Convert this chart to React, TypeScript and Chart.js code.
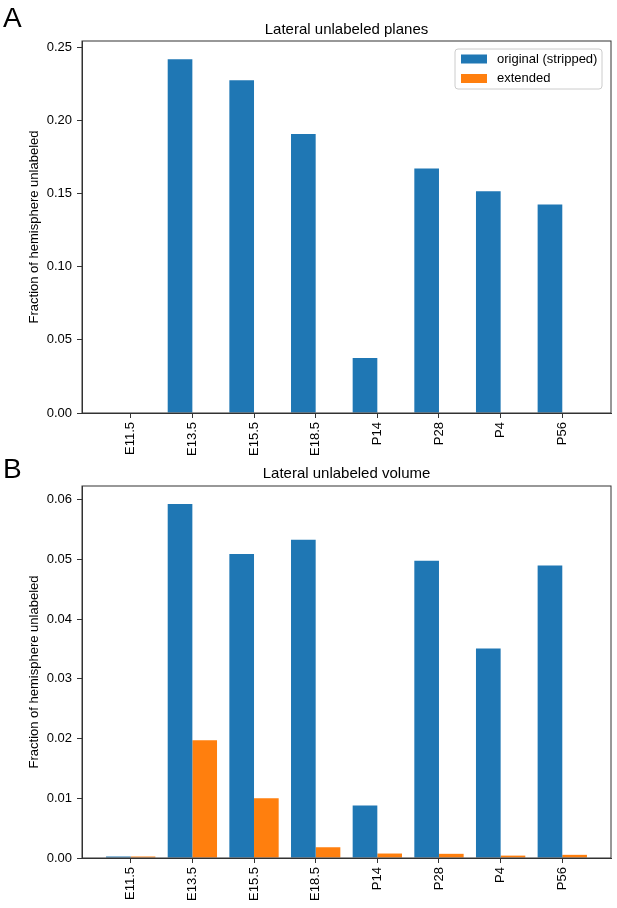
import { useEffect, useRef } from 'react';
import { Chart, registerables } from 'chart.js';

Chart.register(...registerables);

const stages = ['E11.5', 'E13.5', 'E15.5', 'E18.5', 'P14', 'P28', 'P4', 'P56'];

const planesOriginal = [0, 0.242, 0.2276, 0.1909, 0.0376, 0.1673, 0.1517, 0.1426];
const planesExtended = [0, 0, 0, 0, 0, 0, 0, 0];
const planesTicks = [0, 0.05, 0.1, 0.15, 0.2, 0.25];

const volumeOriginal = [0.00025, 0.0593, 0.0509, 0.0533, 0.0088, 0.0498, 0.0351, 0.049];
const volumeExtended = [0.00025, 0.0197, 0.01, 0.0018, 0.00075, 0.0007, 0.0004, 0.00053];
const volumeTicks = [0, 0.01, 0.02, 0.03, 0.04, 0.05, 0.06];

const seriesNames = ['original (stripped)', 'extended'];
const seriesColors = ['#1f77b4', '#ff7f0e'];

const FONT = '"Liberation Sans", Arial, Helvetica, sans-serif';
const SPINE = '#333333';
const Y_LABEL = 'Fraction of hemisphere unlabeled';

Chart.defaults.font.family = FONT;
Chart.defaults.font.size = 13;
Chart.defaults.color = '#000';

// panel letter, title, full frame, y label and the legend box
const panelDecor = {
  id: 'panelDecor',
  afterDraw(chart: any, _args: any, opts: any) {
    const { ctx, chartArea: a } = chart;
    ctx.save();
    ctx.strokeStyle = SPINE;
    ctx.lineWidth = 1;
    ctx.strokeRect(a.left, a.top, a.right - a.left, a.bottom - a.top);

    ctx.fillStyle = '#000';
    ctx.textAlign = 'left';
    ctx.textBaseline = 'alphabetic';
    ctx.font = `28px ${FONT}`;
    ctx.fillText(opts.letter, 3, opts.letterBaseline);

    ctx.font = `15px ${FONT}`;
    ctx.textAlign = 'center';
    ctx.fillText(opts.title, (a.left + a.right) / 2, opts.titleBaseline);

    ctx.save();
    ctx.translate(34, (a.top + a.bottom) / 2);
    ctx.rotate(-Math.PI / 2);
    ctx.font = `13px ${FONT}`;
    ctx.textBaseline = 'middle';
    ctx.fillText(Y_LABEL, 0, 0);
    ctx.restore();

    if (opts.legend) {
      const x = a.right - 156;
      const y = a.top + 8;
      const w = 147;
      const h = 40;
      ctx.fillStyle = 'rgba(255,255,255,0.8)';
      ctx.strokeStyle = '#cccccc';
      ctx.lineWidth = 1;
      ctx.beginPath();
      ctx.roundRect(x, y, w, h, 3);
      ctx.fill();
      ctx.stroke();
      ctx.font = `13px ${FONT}`;
      ctx.textAlign = 'left';
      ctx.textBaseline = 'middle';
      seriesNames.forEach((name, i) => {
        const cy = y + 10 + i * 19.5;
        ctx.fillStyle = seriesColors[i];
        ctx.fillRect(x + 6, cy - 4.5, 26, 9);
        ctx.fillStyle = '#000';
        ctx.fillText(name, x + 42, cy);
      });
    }
    ctx.restore();
  },
};

interface PanelProps {
  letter: string;
  title: string;
  original: number[];
  extended: number[];
  ticks: number[];
  yMax: number;
  height: number;
  top: number;
  xHeight: number;
  titleBaseline: number;
  letterBaseline: number;
  legend: boolean;
}

function Panel(p: PanelProps) {
  const canvasRef = useRef<HTMLCanvasElement>(null);

  useEffect(() => {
    if (!canvasRef.current) return;
    const chart = new Chart(canvasRef.current, {
      type: 'bar',
      data: {
        datasets: [p.original, p.extended].map((vals, k) => ({
          label: seriesNames[k],
          data: vals.map((v, i) => ({ x: i, y: v })),
          backgroundColor: seriesColors[k],
          borderWidth: 0,
          categoryPercentage: 0.8,
          barPercentage: 1,
        })),
      },
      options: {
        responsive: false,
        animation: false,
        layout: { padding: { top: p.top, right: 6, left: 0, bottom: 0 } },
        plugins: {
          legend: { display: false },
          tooltip: { enabled: false },
          panelDecor: {
            letter: p.letter,
            title: p.title,
            titleBaseline: p.titleBaseline,
            letterBaseline: p.letterBaseline,
            legend: p.legend,
          },
        } as any,
        scales: {
          x: {
            type: 'linear',
            min: -0.79,
            max: 7.79,
            offset: false,
            afterBuildTicks: (scale: any) => {
              scale.ticks = stages.map((_, i) => ({ value: i }));
            },
            afterFit: (scale: any) => {
              scale.height = p.xHeight;
            },
            grid: {
              drawOnChartArea: false,
              drawTicks: true,
              tickLength: 5,
              color: SPINE,
              offset: false,
            },
            border: { display: true, color: SPINE, width: 1 },
            ticks: {
              autoSkip: false,
              minRotation: 90,
              maxRotation: 90,
              padding: 4,
              font: { size: 13 },
              callback: (v: any) => stages[v] ?? '',
            },
          },
          y: {
            min: 0,
            max: p.yMax,
            afterBuildTicks: (scale: any) => {
              scale.ticks = p.ticks.map((v) => ({ value: v }));
            },
            afterFit: (scale: any) => {
              scale.width = 82;
            },
            grid: {
              drawOnChartArea: false,
              drawTicks: true,
              tickLength: 5,
              color: SPINE,
            },
            border: { display: true, color: SPINE, width: 1 },
            ticks: {
              padding: 5,
              font: { size: 13 },
              callback: (v: any) => Number(v).toFixed(2),
            },
          },
        },
      } as any,
      plugins: [panelDecor],
    });
    return () => chart.destroy();
  }, []);

  return (
    <canvas
      ref={canvasRef}
      width={617}
      height={p.height}
      style={{ display: 'block', width: 617, height: p.height }}
    />
  );
}

export default function App() {
  return (
    <div style={{ position: 'absolute', left: 0, top: 0, width: 617, height: 908, background: '#fff' }}>
      <Panel
        letter="A"
        title="Lateral unlabeled planes"
        original={planesOriginal}
        extended={planesExtended}
        ticks={planesTicks}
        yMax={0.2545}
        height={457}
        top={41}
        xHeight={44}
        titleBaseline={33.5}
        letterBaseline={27}
        legend={true}
      />
      <Panel
        letter="B"
        title="Lateral unlabeled volume"
        original={volumeOriginal}
        extended={volumeExtended}
        ticks={volumeTicks}
        yMax={0.0623}
        height={451}
        top={29}
        xHeight={50}
        titleBaseline={21}
        letterBaseline={21}
        legend={false}
      />
    </div>
  );
}
